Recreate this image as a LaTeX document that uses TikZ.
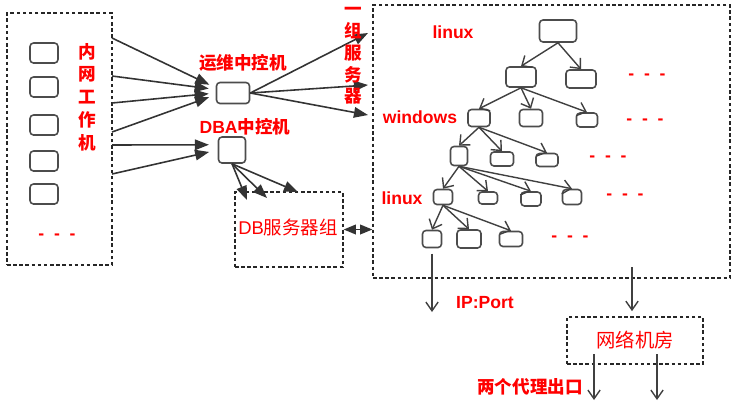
\documentclass[tikz,border=0pt]{standalone}
\usepackage{fontspec}
\setmainfont{Liberation Sans}
\newfontfamily\cjk{Noto Sans CJK SC}
\usetikzlibrary{arrows.meta}
\newcommand\zh[1]{{\cjk#1}}

\begin{document}
\begin{tikzpicture}[x=0.02cm, y=-0.02cm,
    box/.style={draw=black!70, rounded corners=2pt, line width=0.9pt, inner sep=0pt},
    grp/.style={draw=black!85, line width=0.7pt, dash pattern=on 2pt off 1.5pt, inner sep=0pt},
    lbl/.style={text=red, font=\fontsize{10}{13}\selectfont\bfseries},
    zlbl/.style={text=red, font=\fontsize{10}{13}\selectfont\cjk\bfseries},
    dots/.style={text=red, font=\fontsize{10}{13}\selectfont\bfseries},
    arr/.style={draw=black!80, line width=0.9pt, -{Triangle[length=8pt,width=6pt]}},
    tarr/.style={draw=black!75, line width=0.8pt, -{Straight Barb[length=4.5pt,width=8pt]}},
    oarr/.style={draw=black!75, line width=0.8pt, -{Straight Barb[length=5pt,width=7pt]}}]
    \useasboundingbox (0,0) rectangle (736,407);

    % 内网工作机
    \node[grp, minimum width=2.1cm, minimum height=5.04cm] (lan) at (59.5,139) {};
    \foreach \y [count=\i] in {53,87,125,161,194}
        \node[box, minimum width=0.56cm, minimum height=0.4cm] (w\i) at (44,\y) {};
    \node[zlbl, align=center] (lanl) at (87,97) {内\\网\\工\\作\\机};
    \node[dots] (landots) at (57,237) {-~~-~~-};

    % 中控机
    \node[box, minimum width=0.66cm, minimum height=0.42cm] (yw) at (233,93) {};
    \node[zlbl] (ywl) at (243,63) {运维中控机};
    \node[box, minimum width=0.54cm, minimum height=0.52cm] (dba) at (232,150) {};
    \node[lbl] (dbal) at (245,127) {DBA\zh{中控机}};

    % 内网 -> 中控机
    \coordinate (p1) at (112,38);
    \coordinate (p2) at (112,76);
    \coordinate (p3) at (112,103);
    \coordinate (p4) at (112,132);
    \coordinate (p5) at (112,145);
    \coordinate (p6) at (112,174);
    \foreach \p/\s in {p1/3pt, p2/2pt, p3/0pt, p4/-1pt}
        \draw[arr, shorten >=4pt] (\p) -- ([yshift=\s]yw.west);
    \draw[arr, shorten >=5pt] (p5) -- ([yshift=3pt]dba.west);
    \draw[arr, shorten >=5pt] (p6) -- (dba.west);

    % 一组服务器
    \coordinate (s1) at (368,33);
    \coordinate (s2) at (368,85);
    \coordinate (s3) at (368,115);
    \foreach \s in {s1,s2,s3}
        \draw[arr] (yw.east) -- (\s);
    \node[zlbl, align=center, font=\fontsize{10}{12.4}\selectfont\cjk\bfseries]
        (srvl) at (353,56) {一\\组\\服\\务\\器};

    % DB服务器组
    \node[grp, minimum width=2.16cm, minimum height=1.5cm] (db) at (289,229.5) {};
    \node[text=red, font=\fontsize{10.5}{13}\selectfont] (dbl) at (288,227) {DB\zh{服务器组}};
    \coordinate (d1) at (247,200);
    \coordinate (d2) at (267,198);
    \coordinate (d3) at (298,192);
    \foreach \d in {d1,d2,d3}
        \draw[arr] (dba.south) -- (\d);

    % 服务器
    \node[grp, minimum width=7.14cm, minimum height=5.46cm] (srv) at (551.5,141.5) {};
    \draw[arr, {Triangle[length=7pt,width=5.5pt]}-{Triangle[length=7pt,width=5.5pt]}]
        (db.east) -- (db.east -| srv.west);

    \foreach \n/\x/\y/\w/\h in {r/558/31/37/22, a/521/77/30/20, b/581/79/30/18,
        c/479/118/22/17, d/531/118/23/17, e/587/120/21/14,
        f/459/156/17/19, g/502/159/23/14, h/547/160/22/13,
        i/443/197/19/15, j/488/198/19/12, k/531/199/20/14, l/572/197/19/15,
        m/432/239/19/17, n/469/239/24/18, o/511/239/23/15}
        \node[box, minimum width=\w*0.02cm, minimum height=\h*0.02cm] (\n) at (\x,\y) {};

    \foreach \u/\v in {r/a, r/b, a/c, a/d, a/e, c/f, c/g, c/h,
        f/i, f/j, f/k, f/l, i/m, i/n, i/o}
        \draw[tarr] (\u.south) -- (\v.north);

    \node[lbl] (os1) at (453,32) {linux};
    \node[lbl] (os2) at (420,117) {windows};
    \node[lbl] (os3) at (402,198) {linux};
    \node[dots] (t2) at (647,77) {-~~-~~-};
    \node[dots] (t3) at (645,122) {-~~-~~-};
    \node[dots] (t4) at (608,159) {-~~-~~-};
    \node[dots] (t5) at (625,197) {-~~-~~-};
    \node[dots] (t6) at (570,239) {-~~-~~-};

    % 出口
    \coordinate (ip) at (432,312);
    \draw[oarr, shorten <=3pt] (m.south) -- (ip);
    \node[lbl] (ipl) at (485,303) {IP:Port};
    \node[grp, minimum width=2.72cm, minimum height=0.94cm, text=red,
        font=\fontsize{11}{13}\selectfont\cjk] (net) at (635,340.5) {网络机房};
    \coordinate (c2) at (632,267);
    \draw[oarr, shorten >=3pt] (c2) -- (c2 |- net.north);
    \coordinate (e1) at (594,354);
    \coordinate (e2) at (657,354);
    \draw[oarr] (e1) -- ++(0,46);
    \draw[oarr] (e2) -- ++(0,46);
    \node[zlbl] (outl) at (530,387) {两个代理出口};
\end{tikzpicture}
\end{document}
